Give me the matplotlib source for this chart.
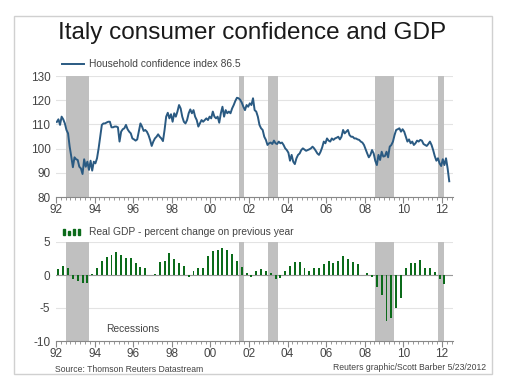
import numpy as np
import matplotlib
matplotlib.use("Agg")
import matplotlib.pyplot as plt
from matplotlib.patches import Rectangle
from matplotlib.ticker import MultipleLocator, FuncFormatter

plt.rcParams['font.family'] = ['Liberation Sans', 'DejaVu Sans']
plt.rcParams['axes.unicode_minus'] = False

# Household confidence index, monthly Jan 1992 - May 2012
confidence = [
    111.0, 112.1, 109.8, 113.2, 112.1, 110.4, 107.7, 106.3, 100.8, 96.7,
    92.3, 96.4, 95.6, 95.3, 92.5, 91.8, 89.5, 95.6, 92.5, 94.6,
    91.2, 95.0, 90.9, 94.6, 93.9, 96.0, 100.1, 104.9, 109.8, 110.4,
    110.4, 110.8, 111.1, 111.1, 108.8, 108.8, 109.1, 109.1, 108.8, 102.9,
    107.0, 108.0, 108.4, 109.8, 108.0, 107.0, 106.3, 104.2, 103.8, 103.3,
    103.8, 107.0, 110.4, 109.1, 107.3, 107.7, 107.0, 105.6, 103.6, 101.1,
    102.9, 104.2,
    104.9, 105.9, 104.9, 104.2, 103.1, 107.7, 113.2, 114.8, 112.5, 114.2,
    111.1, 114.6, 113.2, 115.3, 118.0, 116.6, 113.2, 111.1, 110.4, 111.8,
    114.6, 116.2, 114.6, 115.9, 113.2, 111.8, 109.1, 110.4, 111.8, 111.1,
    111.8, 112.5, 111.8, 113.2, 112.5, 115.3, 113.2, 112.5, 113.2, 110.7,
    114.6, 117.3, 113.2, 115.9, 114.6, 115.3, 114.6, 116.6, 118.0, 119.7,
    121.0, 120.8, 120.2, 119.0, 117.3, 115.9, 118.0, 117.3, 118.7, 118.0,
    120.8, 115.9,
    115.3, 113.2, 109.8, 108.4, 107.7, 104.9, 103.6, 101.5, 102.2, 102.5,
    101.9, 103.3, 102.2, 101.9, 102.9, 102.2, 102.5, 101.5, 100.1, 99.4,
    98.3, 95.0, 97.4, 94.6, 93.6, 96.0, 97.4, 98.0, 99.4, 100.1,
    99.6, 99.1, 99.4, 99.7, 100.1, 100.8, 100.1, 99.1, 98.0, 97.4,
    98.7, 100.5, 102.9, 102.2, 104.2, 103.3, 102.9, 104.2, 103.6, 104.2,
    104.5, 104.9, 103.8, 104.9, 107.7, 106.3, 107.0, 107.7, 105.6, 104.9,
    104.9, 104.2,
    104.2, 103.8, 103.6, 102.9, 102.5, 101.5, 99.7, 98.0, 96.4, 97.4,
    99.4, 98.0, 95.0, 93.2, 97.4, 95.3, 98.7, 96.7, 96.9, 98.7,
    96.4, 100.8, 101.5, 102.9, 105.6, 107.7, 108.0, 108.4, 107.0, 108.0,
    107.0, 104.9, 102.9, 103.8, 102.2, 102.9, 101.5, 102.2, 103.3, 102.9,
    103.6, 103.3, 101.9, 101.5, 101.1, 101.9, 102.9, 101.5, 99.4, 96.9,
    95.0, 96.0, 93.9, 92.8, 95.6, 93.2, 96.0, 91.8, 86.5,
]

# Real GDP, percent change on previous year, quarterly 1992Q1 - 2012Q1
gdp = [
    0.85, 1.3, 1.1, -0.6, -0.95, -1.25, -1.25, 0.1, 1.1, 2.1,
    2.8, 3.0, 3.5, 3.1, 2.65, 2.55, 1.8, 1.15, 1.05, 0.0,
    0.1, 1.9, 2.05, 3.35, 2.4, 1.8, 1.4, -0.35, 0.6, 1.05,
    1.1, 2.9, 3.65, 3.85, 4.1, 3.85, 3.25, 2.05, 1.15, 0.35,
    -0.35, 0.65, 0.9, 0.65, 0.35, -0.55, -0.4, 0.55, 1.3, 1.9,
    1.95, 1.1, 0.55, 1.1, 1.1, 1.6, 2.05, 1.85, 2.05, 2.85,
    2.45, 1.95, 1.7, 0.0, 0.35, -0.35, -1.8, -3.05, -6.9, -6.45,
    -5.0, -3.45, 1.1, 1.8, 1.85, 2.2, 1.05, 1.05, 0.4, -0.55,
    -1.35,
]

recessions = [(1992.5, 1993.73), (2001.5, 2001.73), (2003.0, 2003.49),
              (2008.54, 2009.52), (2011.77, 2012.1)]

conf_t = 1992 + (np.arange(len(confidence)) + 0.5) / 12
gdp_t = 1992 + 0.125 + 0.25 * np.arange(len(gdp))

line_color = '#2a5a82'
bar_color = '#0b6b1a'
shade = '#c0c0c0'
text_gray = '#444444'

fig = plt.figure(figsize=(5.05, 3.89), dpi=100)
fig.patch.set_facecolor('white')

# outer frame
fig.add_artist(Rectangle((14 / 505, 1 - 374 / 389), 478 / 505, 358 / 389,
                         transform=fig.transFigure, fill=False,
                         edgecolor='#d0d0d0', linewidth=1.0))

fig.text(0.5, 1 - 33 / 389, 'Italy consumer confidence and GDP',
         ha='center', va='center', fontsize=17.5, color='#1a1a1a')

ax1 = fig.add_axes([56 / 505, 1 - 197 / 389, 397 / 505, 121 / 389])
ax2 = fig.add_axes([56 / 505, 1 - 341 / 389, 397 / 505, 99 / 389])


def style_axis(ax):
    ax.set_xlim(1992, 2012.57)
    for s in ['top', 'right', 'left']:
        ax.spines[s].set_visible(False)
    ax.spines['bottom'].set_color('#888888')
    ax.spines['bottom'].set_linewidth(0.8)
    ax.xaxis.set_major_locator(MultipleLocator(2))
    ax.xaxis.set_minor_locator(MultipleLocator(0.25))
    ax.xaxis.set_major_formatter(FuncFormatter(lambda v, p: '%02d' % (int(round(v)) % 100)))
    ax.tick_params(axis='x', which='major', length=4, color='#888888',
                   labelsize=8.5, labelcolor=text_gray, pad=1)
    ax.tick_params(axis='x', which='minor', length=2.5, color='#888888')
    ax.tick_params(axis='y', length=0, labelsize=8.5, labelcolor=text_gray, pad=4)
    ax.grid(axis='y', color='#e3e3e3', linewidth=0.8)
    ax.set_axisbelow(True)
    for a, b in recessions:
        ax.axvspan(a, b, color=shade, lw=0, zorder=1)


style_axis(ax1)
ax1.set_ylim(80, 130)
ax1.yaxis.set_major_locator(MultipleLocator(10))
ax1.plot(conf_t, confidence, color=line_color, lw=1.4, zorder=3)

style_axis(ax2)
ax2.set_ylim(-10, 5)
ax2.yaxis.set_major_locator(MultipleLocator(5))
ax2.axhline(0, color='#999999', lw=0.8, zorder=2)
ax2.bar(gdp_t, gdp, width=0.1, color=bar_color, zorder=3)
ax2.text(1994.6, -8.7, 'Recessions', fontsize=7.4, color=text_gray)

# legends
fig.add_artist(plt.Line2D([62 / 505, 84 / 505], [1 - 64 / 389, 1 - 64 / 389],
                          color=line_color, lw=1.4))
fig.text(89 / 505, 1 - 64 / 389, 'Household confidence index 86.5',
         fontsize=7.4, color=text_gray, va='center')
for i, h in enumerate([6, 4, 6, 6]):
    fig.add_artist(Rectangle(((63 + i * 5) / 505, 1 - 234.5 / 389),
                             2.2 / 505, h / 389, transform=fig.transFigure,
                             color=bar_color))
fig.text(89 / 505, 1 - 232 / 389, 'Real GDP - percent change on previous year',
         fontsize=7.4, color=text_gray, va='center')

fig.text(55 / 505, 1 - 369 / 389, 'Source: Thomson Reuters Datastream',
         fontsize=6.2, color=text_gray, va='center')
fig.text(486 / 505, 1 - 367 / 389, 'Reuters graphic/Scott Barber 5/23/2012',
         fontsize=6.2, color=text_gray, va='center', ha='right')

fig.savefig('out.png', dpi=100, facecolor='white')
